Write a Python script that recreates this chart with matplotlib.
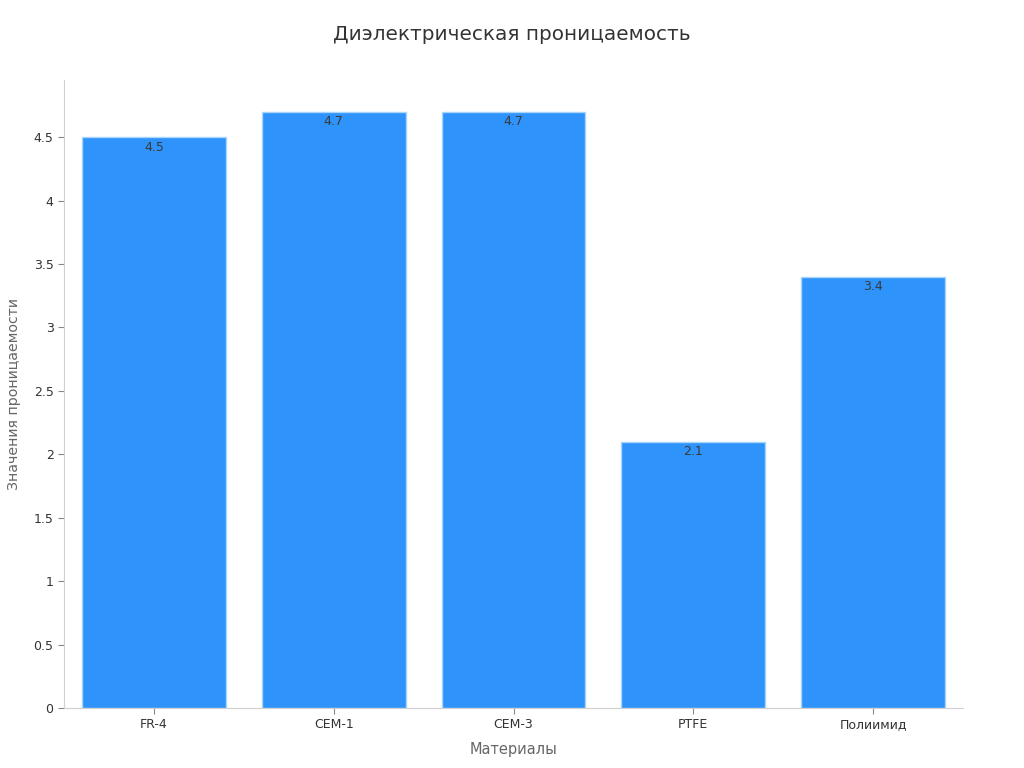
import matplotlib
matplotlib.use("Agg")
import matplotlib.pyplot as plt
from matplotlib.ticker import FuncFormatter

categories = ["FR-4", "CEM-1", "CEM-3", "PTFE", "Полиимид"]
values = [4.5, 4.7, 4.7, 2.1, 3.4]

plt.rcParams['font.family'] = ['DejaVu Sans']

fig = plt.figure(figsize=(10.24, 7.68), dpi=100)
ax = fig.add_axes([64/1024, 60/768, 899/1024, 628/768])

x = list(range(len(categories)))
bars = ax.bar(x, values, width=0.8, color="#2E93FA", edgecolor="#A9D4FC", linewidth=1)

for xi, v in zip(x, values):
    ax.annotate(f"{v}", (xi, v), xytext=(0, -2.5), textcoords="offset points",
                ha="center", va="top", fontsize=9, color="#3a3a3a")

ax.set_xlim(-0.5, 4.5)
ax.set_ylim(0, 4.95)
ax.set_yticks([0, 0.5, 1, 1.5, 2, 2.5, 3, 3.5, 4, 4.5])
ax.yaxis.set_major_formatter(FuncFormatter(lambda v, p: f"{v:g}"))
ax.set_xticks(x)
ax.set_xticklabels(categories)
ax.tick_params(axis="both", labelsize=9, colors="#333333", length=4, color="#888888")
ax.tick_params(axis="x", pad=3)

for s in ["top", "right"]:
    ax.spines[s].set_visible(False)
for s in ["left", "bottom"]:
    ax.spines[s].set_color("#d0d0d0")

ax.set_xlabel("Материалы", fontsize=10.5, color="#666666", labelpad=8)
ax.set_ylabel("Значения проницаемости", fontsize=10.2, color="#666666", labelpad=9)
fig.text(0.5, 1 - 34/768, "Диэлектрическая проницаемость", ha="center", va="center",
         fontsize=14.4, color="#333333")

fig.savefig("out.png", dpi=100)
